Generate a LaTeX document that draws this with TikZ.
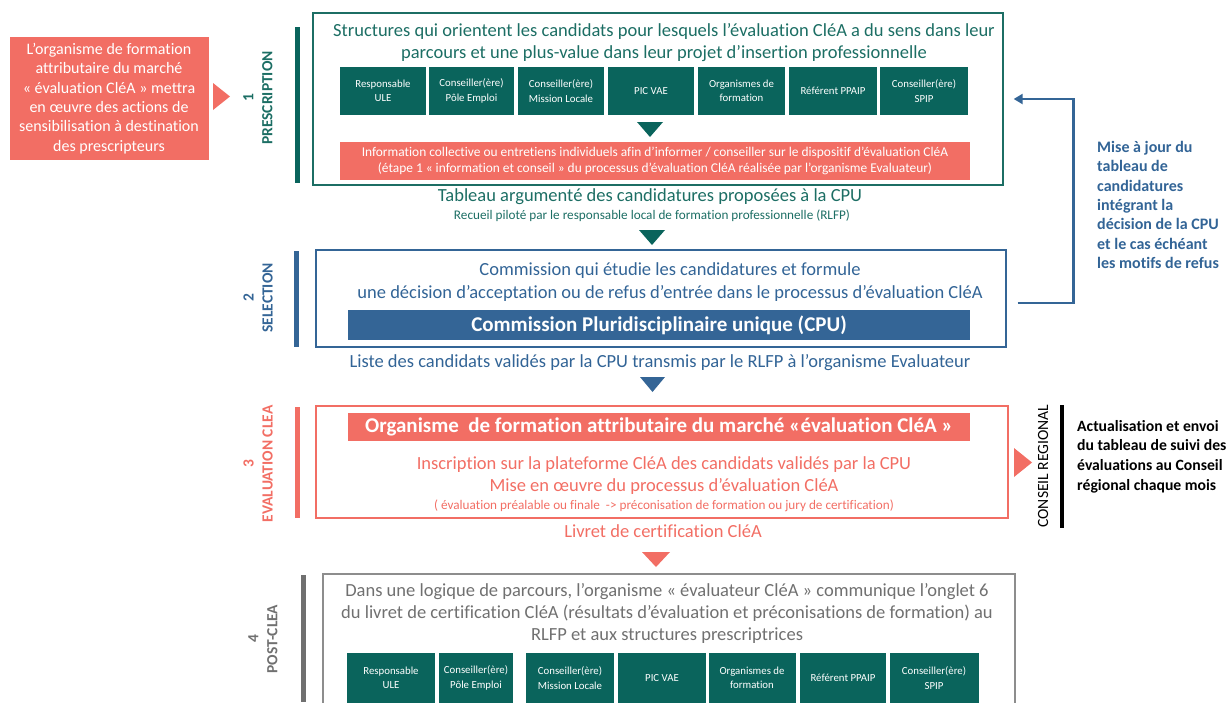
\documentclass[tikz,border=0pt]{standalone}
\usepackage{fontspec}
\setmainfont{Carlito}[Ligatures=NoCommon]
\usepackage{xcolor}
\usetikzlibrary{arrows.meta, calc, positioning}
\definecolor{cleateal}{RGB}{10,100,92}
\definecolor{tealtext}{RGB}{28,110,100}
\definecolor{cleablue}{RGB}{52,101,150}
\definecolor{bluetext}{RGB}{50,100,150}
\definecolor{clearose}{RGB}{242,110,100}
\definecolor{postgray}{RGB}{112,112,112}

\tikzset{
  frame/.style={draw, line width=1.3pt, inner sep=0pt},
  orgbox/.style={fill=cleateal, text=white, inner sep=0pt, align=center,
    minimum height=48pt, font=\fontsize{10.8}{14.5}\selectfont},
  banner/.style={inner sep=0pt, align=center, text=white},
  stagelabel/.style={rotate=90, align=center, font=\fontsize{15.5}{19}\selectfont\bfseries},
  stagebar/.style={line width=5pt},
  bigtext/.style={font=\fontsize{18.5}{22}\selectfont, align=center, inner sep=0pt},
  smalltext/.style={font=\fontsize{13.2}{15}\selectfont, align=center, inner sep=0pt},
  sidetext/.style={font=\fontsize{16}{19.3}\selectfont\bfseries, align=left, anchor=west, inner sep=0pt},
  feedback/.style={-{Triangle[length=9pt, width=10pt]}, line width=2.6pt, cleablue},
}

\begin{document}
\begin{tikzpicture}[x=1pt, y=-1pt, >=Stealth]
  \useasboundingbox (0,0) rectangle (1229,702);

  % Stage frames
  \node[frame, draw=tealtext, minimum width=690, minimum height=172] (pres) at (658,99) {};
  \node[frame, draw=cleablue, minimum width=690, minimum height=97] (sel) at (661,298.5) {};
  \node[frame, draw=clearose, minimum width=692, minimum height=112] (eval) at (662,462) {};
  \node[frame, draw=postgray!80, minimum width=692, minimum height=146] (post) at (669,647) {};

  % Stage bars and labels
  \draw[stagebar, cleateal] (297,27) -- (297,183);
  \draw[stagebar, cleablue] (296,251) -- (296,347);
  \draw[stagebar, clearose] (297,407) -- (297,518);
  \draw[stagebar, postgray] (303.5,575) -- (303.5,702);
  \node[stagelabel, text=tealtext] (lab1) at (258,98) {1\\PRESCRIPTION};
  \node[stagelabel, text=cleablue] (lab2) at (258,298) {2\\SELECTION};
  \node[stagelabel, text=clearose] (lab3) at (258,464) {3\\EVALUATION CLEA};
  \node[stagelabel, text=postgray] (lab4) at (263,639) {4\\POST-CLEA};

  % Awareness actions on the left
  \node[banner, fill=clearose, minimum width=199, minimum height=123,
    font=\fontsize{16}{19.4}\selectfont] (sensib) at (109,98.5)
    {L’organisme de formation\\attributaire du marché\\« évaluation CléA » mettra\\en œuvre des actions de\\sensibilisation à destination\\des prescripteurs};
  \fill[clearose] (213,83) -- (230,96.5) -- (213,110) -- cycle;

  % 1 - Prescription
  \node[bigtext, text=tealtext] (prestitle) at (664,43)
    {Structures qui orientent les candidats pour lesquels l’évaluation CléA a du sens dans leur\\parcours et une plus-value dans leur projet d’insertion professionnelle};
  \foreach \cx/\w/\lbl [count=\i] in {383/86/{Responsable\\ULE}, 471.5/85/{Conseiller(ère)\\Pôle Emploi},
      561/86/{Conseiller(ère)\\Mission Locale}, 651/86/{PIC VAE}, 741.5/87/{Organismes de\\formation},
      833/88/{Référent PPAIP}, 924/88/{Conseiller(ère)\\SPIP}}
    \node[orgbox, minimum width=\w] (presorg\i) at (\cx,91) {\lbl};
  \fill[cleateal] (637,122) -- (663,122) -- (650,137) -- cycle;
  \node[banner, fill=clearose, minimum width=630, minimum height=38,
    font=\fontsize{13.4}{15.5}\selectfont] (infobar) at (655,161)
    {Information collective ou entretiens individuels afin d’informer / conseiller sur le dispositif d’évaluation CléA\\(étape 1 « information et conseil » du processus d’évaluation CléA réalisée par l’organisme Evaluateur)};

  \node[bigtext, text=tealtext] (tableau) at (650,197) {Tableau argumenté des candidatures proposées à la CPU};
  \node[smalltext, text=tealtext] (recueil) at (652,216) {Recueil piloté par le responsable local de formation professionnelle (RLFP)};
  \fill[cleateal] (639,230) -- (665,230) -- (652,245) -- cycle;

  % 2 - Selection
  \node[bigtext, text=bluetext, font=\fontsize{18.5}{23}\selectfont] (seltext) at (670,282.5)
    {Commission qui étudie les candidatures et formule\\une décision d’acceptation ou de refus d’entrée dans le processus d’évaluation CléA};
  \node[banner, fill=cleablue, minimum width=622, minimum height=30,
    font=\fontsize{21}{22}\selectfont\bfseries] (cpu) at (659,325) {Commission Pluridisciplinaire unique (CPU)};
  \node[bigtext, text=bluetext] (liste) at (660,363) {Liste des candidats validés par la CPU transmis par le RLFP à l’organisme Evaluateur};
  \fill[cleablue] (640,377) -- (665,377) -- (652.5,392) -- cycle;

  % 3 - Evaluation
  \node[banner, fill=clearose, minimum width=622, minimum height=28,
    font=\fontsize{21}{22}\selectfont\bfseries] (organisme) at (659,427) {Organisme~ de formation attributaire du marché «évaluation CléA »};
  \node[bigtext, text=clearose] (inscription) at (664,476)
    {Inscription sur la plateforme CléA des candidats validés par la CPU\\Mise en œuvre du processus d’évaluation CléA};
  \node[smalltext, text=clearose] (parcours) at (664,506) {( évaluation préalable ou finale~ -> préconisation de formation ou jury de certification)};
  \node[bigtext, text=clearose] (livret) at (663,531) {Livret de certification CléA};
  \fill[clearose] (642,552) -- (670,552) -- (656,567) -- cycle;

  % 4 - Post-CleA
  \node[bigtext, text=postgray] (posttext) at (667,613)
    {Dans une logique de parcours, l’organisme « évaluateur CléA » communique l’onglet 6\\du livret de certification CléA (résultats d’évaluation et préconisations de formation) au\\RLFP et aux structures prescriptrices};
  \foreach \cx/\w/\lbl [count=\i] in {391/88/{Responsable\\ULE}, 476/74/{Conseiller(ère)\\Pôle Emploi},
      570/88/{Conseiller(ère)\\Mission Locale}, 662/88/{PIC VAE}, 752/87/{Organismes de\\formation},
      843/86/{Référent PPAIP}, 934/89/{Conseiller(ère)\\SPIP}}
    \node[orgbox, minimum width=\w, minimum height=50] (postorg\i) at (\cx,678) {\lbl};

  % Feedback loop to the prescribers
  \draw[feedback] ([xshift=11pt, yshift=-4.5pt]sel.east) -- ++(56,0) |- ([xshift=10pt]pres.east);
  \node[sidetext, text=bluetext] (majtext) at (1097,205)
    {Mise à jour du\\tableau de\\candidatures\\intégrant la\\décision de la CPU\\et le cas échéant\\les motifs de refus};

  % Regional council reporting
  \fill[clearose] (1014,448) -- (1032,462.5) -- (1014,477) -- cycle;
  \node[rotate=90, font=\fontsize{15.6}{18}\selectfont, inner sep=0pt] (conseil) at (1043,466) {CONSEIL REGIONAL};
  \draw[line width=4pt] (1062,405) -- (1062,528);
  \node[sidetext, font=\fontsize{15.7}{19.7}\selectfont\bfseries] (suivi) at (1077,456.5)
    {Actualisation et envoi\\du tableau de suivi des\\évaluations au Conseil\\régional chaque mois};

\end{tikzpicture}
\end{document}
